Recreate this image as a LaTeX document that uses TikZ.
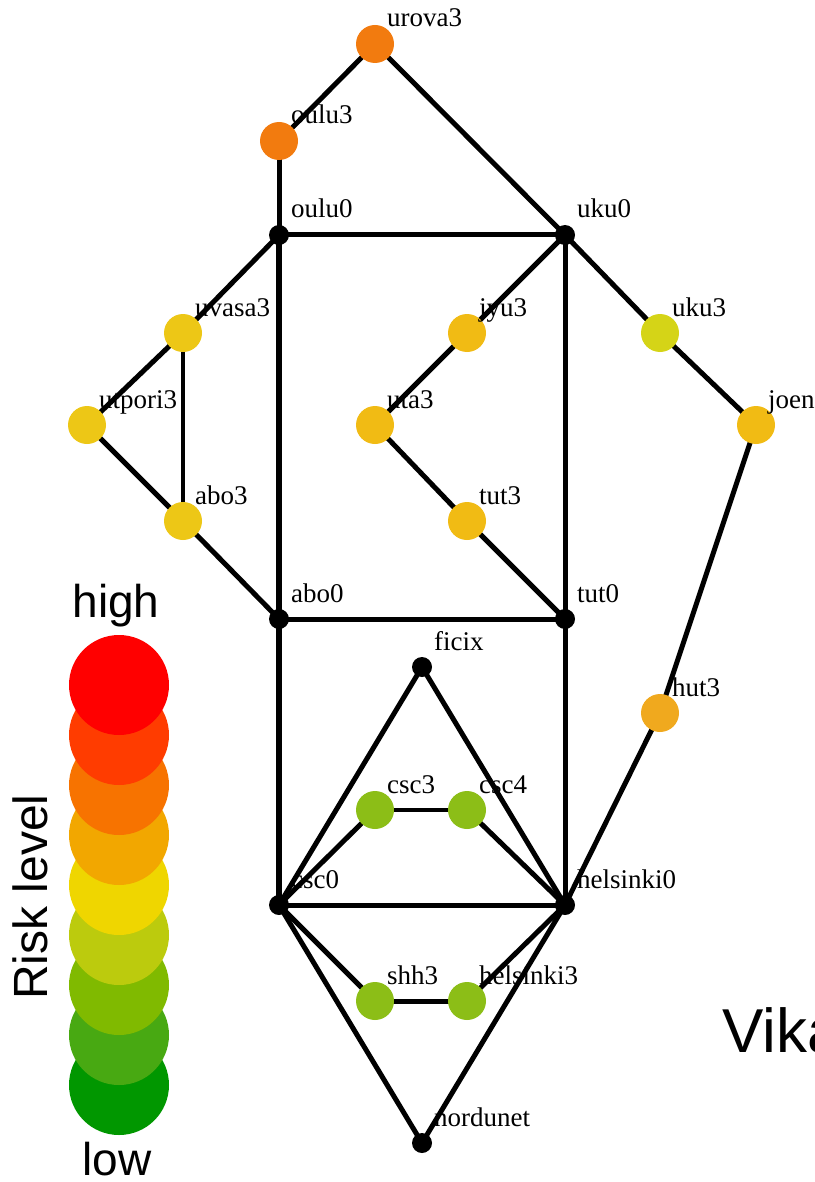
\documentclass[tikz,border=0pt]{standalone}
\usepackage{fontspec}
\setmainfont{Liberation Serif}
\newfontfamily\legfont{Liberation Sans}
\usetikzlibrary{backgrounds}
\definecolor{cOrange}{HTML}{F27B0F}
\definecolor{cYellow}{HTML}{EDC716}
\definecolor{cAmber}{HTML}{F1BB14}
\definecolor{cLime}{HTML}{D5D417}
\definecolor{cHut}{HTML}{F0A91E}
\definecolor{cGreen}{HTML}{8CBE17}
\definecolor{lg1}{HTML}{FF0000}
\definecolor{lg2}{HTML}{FF3C00}
\definecolor{lg3}{HTML}{F77300}
\definecolor{lg4}{HTML}{F2A700}
\definecolor{lg5}{HTML}{EFD600}
\definecolor{lg6}{HTML}{BCCB0D}
\definecolor{lg7}{HTML}{80BA00}
\definecolor{lg8}{HTML}{48A912}
\definecolor{lg9}{HTML}{019700}
\begin{document}
\begin{tikzpicture}[x=1pt,y=-1pt,
  hub/.style={circle,fill=black,inner sep=0pt,minimum size=20pt},
  site/.style={circle,inner sep=0pt,minimum size=38pt,fill=#1},
  lbl/.style={anchor=base west,inner sep=0pt,font=\fontsize{27}{27}\selectfont},
  link/.style={line width=5pt,draw=black},
  thin link/.style={line width=4pt,draw=black},
  legend/.style={circle,inner sep=0pt,minimum size=100pt,fill=#1},
  legtext/.style={font=\legfont\fontsize{46}{46}\selectfont,inner sep=0pt}]
\useasboundingbox (0,0) rectangle (814,1182);
% nodes
\node[site=cOrange] (urova3) at (375,44) {};
\node[site=cOrange] (oulu3) at (279,141) {};
\node[hub] (oulu0) at (279,235) {};
\node[hub] (uku0) at (565,235) {};
\node[site=cYellow] (uvasa3) at (183,333) {};
\node[site=cYellow] (utpori3) at (87,425) {};
\node[site=cYellow] (abo3) at (183,521) {};
\node[site=cAmber] (jyu3) at (467,333) {};
\node[site=cAmber] (uta3) at (375,425) {};
\node[site=cAmber] (tut3) at (467,521) {};
\node[site=cLime] (uku3) at (660,333) {};
\node[site=cAmber] (joen3) at (756,425) {};
\node[hub] (abo0) at (279,619) {};
\node[hub] (tut0) at (565,619) {};
\node[hub] (ficix) at (422,667) {};
\node[site=cHut] (hut3) at (660,713) {};
\node[site=cGreen] (csc3) at (375,810) {};
\node[site=cGreen] (csc4) at (467,810) {};
\node[hub] (csc0) at (279,905) {};
\node[hub] (helsinki0) at (565,905) {};
\node[site=cGreen] (shh3) at (375,1001) {};
\node[site=cGreen] (helsinki3) at (467,1001) {};
\node[hub] (nordunet) at (422,1143) {};
% labels
\foreach \n in {urova3,oulu3,oulu0,uku0,uvasa3,utpori3,abo3,jyu3,uta3,tut3,uku3,joen3,abo0,tut0,ficix,hut3,csc3,csc4,csc0,helsinki0,shh3,helsinki3,nordunet}
  \node[lbl] (l-\n) at ([xshift=12pt,yshift=17pt]\n.center) {\n};
% edges
\begin{scope}[on background layer]
\draw[link] (urova3.center) -- (oulu3.center);
\draw[link] (urova3.center) -- (uku0.center);
\draw[link] (oulu3.center) -- (oulu0.center);
\draw[link] (oulu0.center) -- (uku0.center);
\draw[link] (oulu0.center) -- (uvasa3.center);
\draw[link,line width=6pt] (oulu0.center) -- (abo0.center);
\draw[link] (uvasa3.center) -- (utpori3.center);
\draw[thin link] (uvasa3.center) -- (abo3.center);
\draw[link] (utpori3.center) -- (abo3.center);
\draw[link] (abo3.center) -- (abo0.center);
\draw[link] (uku0.center) -- (jyu3.center);
\draw[link] (uku0.center) -- (uku3.center);
\draw[link] (uku0.center) -- (tut0.center);
\draw[link] (jyu3.center) -- (uta3.center);
\draw[link] (uta3.center) -- (tut3.center);
\draw[link] (tut3.center) -- (tut0.center);
\draw[link] (uku3.center) -- (joen3.center);
\draw[link] (joen3.center) -- (hut3.center);
\draw[link] (hut3.center) -- (helsinki0.center);
\draw[link] (abo0.center) -- (tut0.center);
\draw[link,line width=6pt] (abo0.center) -- (csc0.center);
\draw[link] (tut0.center) -- (helsinki0.center);
\draw[link] (ficix.center) -- (csc0.center);
\draw[link] (ficix.center) -- (helsinki0.center);
\draw[link] (csc0.center) -- (csc3.center);
\draw[thin link] (csc3.center) -- (csc4.center);
\draw[link] (csc4.center) -- (helsinki0.center);
\draw[link] (csc0.center) -- (helsinki0.center);
\draw[link] (csc0.center) -- (shh3.center);
\draw[link] (shh3.center) -- (helsinki3.center);
\draw[link] (helsinki3.center) -- (helsinki0.center);
\draw[link] (csc0.center) -- (nordunet.center);
\draw[link] (helsinki0.center) -- (nordunet.center);
\end{scope}
% legend
\node[legend=lg9] (g9) at (119,1085) {};
\node[legend=lg8] (g8) at (119,1035) {};
\node[legend=lg7] (g7) at (119,985) {};
\node[legend=lg6] (g6) at (119,935) {};
\node[legend=lg5] (g5) at (119,885) {};
\node[legend=lg4] (g4) at (119,835) {};
\node[legend=lg3] (g3) at (119,785) {};
\node[legend=lg2] (g2) at (119,735) {};
\node[legend=lg1] (g1) at (119,685) {};
\node[legtext,anchor=base] (high) at (116,617) {high};
\node[legtext,anchor=base] (low) at (117,1175) {low};
\node[legtext,rotate=90,font=\legfont\fontsize{48}{48}\selectfont] (risk) at (30,897) {Risk level};
\node[anchor=base west,inner sep=0pt,font=\legfont\fontsize{62}{62}\selectfont] (vika) at (722,1052) {Vika};
\end{tikzpicture}
\end{document}
